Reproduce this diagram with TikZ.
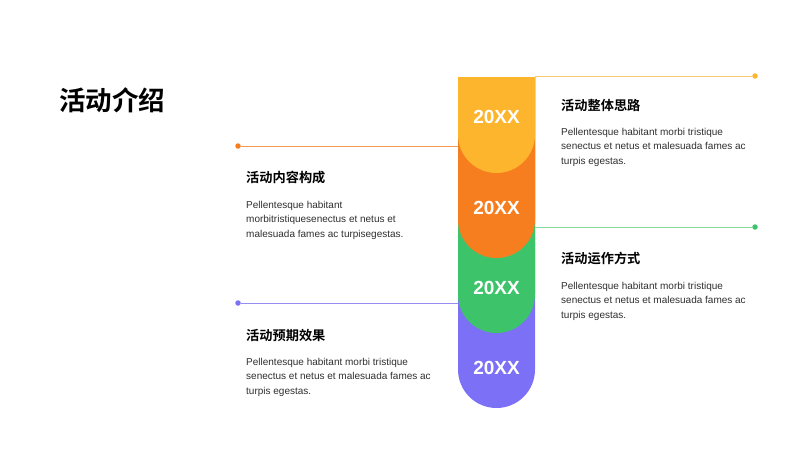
\documentclass[tikz,border=0pt]{standalone}
\usepackage{fontspec}
\setmainfont{Liberation Sans}
\newfontfamily\cjk{Noto Sans CJK SC}[BoldFont={Noto Sans CJK SC Bold}]
\usetikzlibrary{positioning, calc}
\definecolor{segYellow}{HTML}{FDB52E}
\definecolor{segOrange}{HTML}{F77E1F}
\definecolor{segGreen}{HTML}{3DC46B}
\definecolor{segPurple}{HTML}{7C70F6}
\definecolor{lineYellow}{HTML}{F9C873}
\definecolor{lineOrange}{HTML}{F79A58}
\definecolor{lineGreen}{HTML}{86D89A}
\definecolor{linePurple}{HTML}{968CF2}
\definecolor{bodyGray}{HTML}{2E2E2E}
\newcommand{\Segment}[4]{%
    \fill[#1] (458,-77) -- (458,{-(#2-38.5)}) arc (180:360:38.5) -- (535,-77) -- cycle;
    \node[year] (#4) at (496.5,-#3) {20XX};
}

\begin{document}
\begin{tikzpicture}[x=1pt, y=1pt,
    year/.style={text=white, font=\fontsize{19}{19}\selectfont\bfseries},
    heading/.style={anchor=west, inner sep=0pt, font=\fontsize{13.2}{13.2}\selectfont\cjk\bfseries},
    body/.style={anchor=north west, inner sep=0pt, align=left, text=bodyGray,
        font=\fontsize{10}{14.5}\selectfont},
    dot/.style={circle, inner sep=0pt, minimum size=5.5pt},
    link/.style={line width=0.9pt}]
    \useasboundingbox (0,0) rectangle (800,-450);

    % Title
    \node[anchor=west, inner sep=0pt, font=\fontsize{26.5}{26.5}\selectfont\cjk\bfseries] (title) at (59,-100) {活动介绍};

    % Column, drawn from the bottom segment up
    \Segment{segPurple}{408}{368}{yearD}
    \Segment{segGreen}{333}{288}{yearC}
    \Segment{segOrange}{258}{208}{yearB}
    \Segment{segYellow}{173}{117}{yearA}

    % Connectors
    \coordinate (colA) at (535,-76);
    \coordinate (colB) at (458,-146);
    \coordinate (colC) at (535,-227);
    \coordinate (colD) at (458,-303);
    \node[dot, fill=segYellow] (dotA) at (755,-76) {};
    \node[dot, fill=segOrange] (dotB) at (238,-146) {};
    \node[dot, fill=segGreen] (dotC) at (755,-227) {};
    \node[dot, fill=segPurple] (dotD) at (238,-303) {};
    \draw[link, lineYellow] (colA) -- (dotA);
    \draw[link, lineOrange] (dotB) -- (colB);
    \draw[link, lineGreen] (colC) -- (dotC);
    \draw[link, linePurple] (dotD) -- (colD);

    % Texts
    \node[heading] (headA) at (561,-105) {活动整体思路};
    \node[body] (bodyA) at (561,-128) {Pellentesque habitant morbi tristique\\senectus et netus et malesuada fames ac\\turpis egestas.};

    \node[heading] (headB) at (246,-177) {活动内容构成};
    \node[body] (bodyB) at (246,-201) {Pellentesque habitant\\morbitristiquesenectus et netus et\\malesuada fames ac turpisegestas.};

    \node[heading] (headC) at (561,-258) {活动运作方式};
    \node[body] (bodyC) at (561,-282) {Pellentesque habitant morbi tristique\\senectus et netus et malesuada fames ac\\turpis egestas.};

    \node[heading] (headD) at (246,-335) {活动预期效果};
    \node[body] (bodyD) at (246,-358) {Pellentesque habitant morbi tristique\\senectus et netus et malesuada fames ac\\turpis egestas.};
\end{tikzpicture}
\end{document}
